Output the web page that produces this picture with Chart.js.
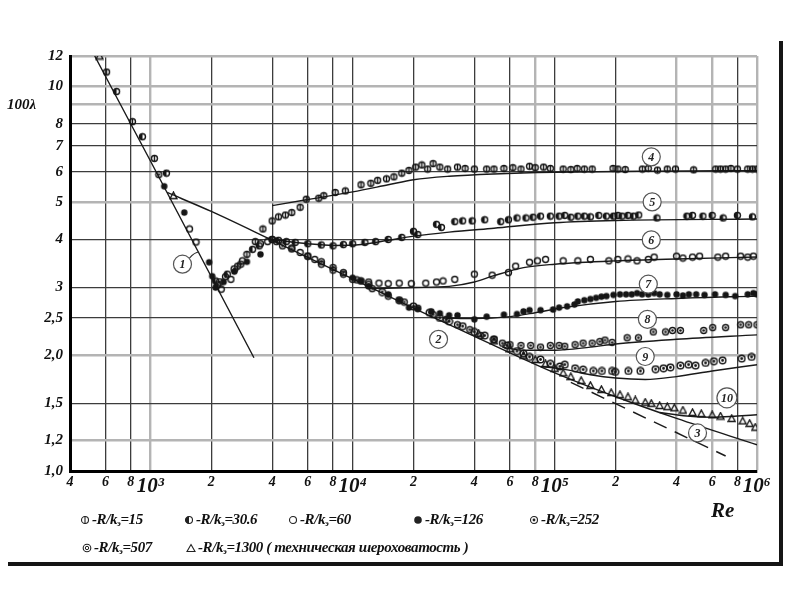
<!DOCTYPE html>
<html><head><meta charset="utf-8">
<script src="https://cdn.jsdelivr.net/npm/chart.js@4/dist/chart.umd.min.js"></script>
<style>
body{margin:0;background:#fff;width:800px;height:600px;overflow:hidden;position:relative;font-family:'Liberation Serif','DejaVu Serif',serif;}
#c{position:absolute;left:0;top:0;}
.frameR{position:absolute;left:779px;top:41px;width:4px;height:525px;background:#151515;}
.frameB{position:absolute;left:8px;top:562px;width:775px;height:4px;background:#151515;}
.t{position:absolute;font-style:italic;font-weight:bold;color:#111;white-space:nowrap;line-height:1;}
.leg{position:absolute;font-style:italic;font-weight:bold;font-size:15px;color:#111;white-space:nowrap;line-height:1;display:flex;align-items:center;letter-spacing:-0.4px;}
.leg svg{margin-right:2px;}
.leg sub{font-size:9px;vertical-align:-2px;}
</style></head>
<body>
<canvas id="c" width="800" height="600"></canvas>
<div class="frameR"></div><div class="frameB"></div>
<div class="t" style="left:7px;top:97px;font-size:15px;">100λ</div>
<div class="t" style="left:711px;top:500px;font-size:21px;">Re</div>
<div id="legend"></div>
<script>
// ---- axes ----
const xTickValues = [400,600,800,1e3,2e3,4e3,6e3,8e3,1e4,2e4,4e4,6e4,8e4,1e5,2e5,4e5,6e5,8e5,1e6];
const xTickLabels = ['4','6','8','10³','2','4','6','8','10⁴','2','4','6','8','10⁵','2','4','6','8','10⁶'];
const yTickValues = [1,1.2,1.5,2,2.5,3,4,5,6,7,8,9,10,12];
const yTickLabels = ['1,0','1,2','1,5','2,0','2,5','3','4','5','6','7','8','','10','12'];
const xLightGrid = [1e3,8e4,4e5,6e5,1e6];
const yLightGrid = [12,10,9,5,2,1.2];

// ---- theoretical curves [Re, 100λ] ----
const laminar1 = [[530,12.0],[1000,6.4],[2000,3.2],[3250,1.97]];
const smooth2 = [[1210,5.3],[2000,4.73],[4000,3.98],[1e4,3.16],[2e4,2.65],[4e4,2.24],[1e5,1.80],[2e5,1.56],[4e5,1.37],[1e6,1.17]];
const blasius3 = [[1.2e5,1.7],[7e5,1.094]];
const curve4 = [[4000,4.9],[6000,5.08],[1e4,5.32],[1.5e4,5.55],[2e4,5.72],[3e4,5.84],[5e4,5.92],[1e5,5.98],[3e5,6.02],[1e6,6.04]];
const curve5 = [[4000,4.0],[6000,3.9],[8000,3.86],[1.1e4,3.88],[1.5e4,3.98],[2e4,4.08],[3e4,4.18],[5e4,4.28],[1e5,4.42],[2e5,4.48],[1e6,4.52]];
const curve6 = [[1.25e4,2.98],[2e4,3.0],[3e4,3.02],[4e4,3.1],[5e4,3.22],[7e4,3.38],[1e5,3.45],[2e5,3.52],[4e5,3.56],[1e6,3.6]];
const curve7 = [[2.8e4,2.5],[4e4,2.49],[6e4,2.52],[8e4,2.58],[1.1e5,2.66],[2e5,2.76],[4e5,2.81],[1e6,2.85]];
const curve8 = [[5.5e4,2.1],[7e4,2.06],[1e5,2.06],[1.5e5,2.1],[2e5,2.14],[4e5,2.2],[1e6,2.26]];
const curve9 = [[8.5e4,1.87],[1.1e5,1.84],[1.5e5,1.78],[2e5,1.745],[2.8e5,1.73],[4e5,1.76],[6e5,1.82],[1e6,1.89]];
const curve10 = [[3.3e5,1.42],[4.5e5,1.39],[6e5,1.38],[8e5,1.39],[1e6,1.40]];

// ---- experimental points [Re, 100λ] ----
const pts15 = [[607,10.9],[815,8.1],[1046,6.5],[2700,3.41],[3000,3.66],[3300,3.95],[3600,4.26],[4000,4.47],[4300,4.58],[4650,4.63],[5000,4.7],[5500,4.85],[5900,5.09],[6800,5.12],[7200,5.2],[8200,5.3],[9200,5.35],[1.1e4,5.55],[1.23e4,5.6],[1.33e4,5.7],[1.47e4,5.75],[1.6e4,5.82],[1.75e4,5.95],[1.9e4,6.05],[2.05e4,6.17],[2.2e4,6.25],[2.35e4,6.1],[2.5e4,6.3],[2.7e4,6.17],[2.95e4,6.1],[3.3e4,6.17],[3.6e4,6.12],[4e4,6.1],[4.6e4,6.1],[5e4,6.1],[5.6e4,6.12],[6.2e4,6.15],[6.8e4,6.1],[7.5e4,6.2],[8e4,6.15],[8.8e4,6.17],[9.5e4,6.12],[1.1e5,6.1],[1.2e5,6.08],[1.29e5,6.12],[1.4e5,6.1],[1.53e5,6.1],[1.94e5,6.12],[2.05e5,6.1],[2.23e5,6.08],[2.71e5,6.1],[2.9e5,6.12],[3.22e5,6.06],[3.6e5,6.1],[3.95e5,6.1],[4.86e5,6.07],[6.25e5,6.1],[6.6e5,6.1],[7e5,6.1],[7.43e5,6.12],[8e5,6.1],[9e5,6.1],[9.5e5,6.1],[1e6,6.1]];
const pts30 = [[680,9.7],[913,7.4],[1200,5.95],[2100,3.12],[2400,3.25],[3200,3.77],[3450,3.85],[4000,4.0],[4300,3.98],[4700,3.95],[5200,3.93],[6000,3.9],[7000,3.87],[8000,3.85],[9000,3.88],[1e4,3.9],[1.15e4,3.93],[1.3e4,3.95],[1.5e4,4.0],[1.75e4,4.05],[2e4,4.2],[2.1e4,4.12],[2.6e4,4.38],[2.75e4,4.3],[3.2e4,4.45],[3.5e4,4.47],[3.9e4,4.47],[4.5e4,4.5],[5.4e4,4.45],[5.9e4,4.5],[6.5e4,4.55],[7.2e4,4.55],[7.8e4,4.57],[8.5e4,4.6],[9.5e4,4.6],[1.05e5,4.6],[1.12e5,4.62],[1.2e5,4.57],[1.3e5,4.6],[1.4e5,4.6],[1.5e5,4.58],[1.65e5,4.62],[1.8e5,4.6],[1.95e5,4.6],[2.05e5,4.62],[2.15e5,4.6],[2.3e5,4.62],[2.45e5,4.6],[2.6e5,4.63],[3.2e5,4.55],[4.5e5,4.6],[4.8e5,4.62],[5.4e5,4.6],[6e5,4.62],[6.8e5,4.55],[8e5,4.62],[9.5e5,4.58]];
const pts60 = [[1560,4.26],[1680,3.94],[2240,2.97],[2500,3.15],[2850,3.52],[3500,3.9],[3800,3.95],[4200,3.95],[5000,3.8],[5500,3.7],[6000,3.62],[6500,3.55],[7000,3.45],[8000,3.33],[9000,3.25],[1e4,3.15],[1.1e4,3.12],[1.2e4,3.1],[1.35e4,3.08],[1.5e4,3.07],[1.7e4,3.08],[1.95e4,3.07],[2.3e4,3.08],[2.6e4,3.1],[2.8e4,3.12],[3.2e4,3.15],[4e4,3.25],[4.9e4,3.23],[5.9e4,3.28],[6.4e4,3.41],[7.5e4,3.49],[8.2e4,3.52],[9e4,3.55],[1.1e5,3.52],[1.3e5,3.52],[1.5e5,3.55],[1.85e5,3.52],[2.05e5,3.55],[2.3e5,3.56],[2.55e5,3.52],[2.9e5,3.55],[3.1e5,3.6],[4e5,3.62],[4.3e5,3.58],[4.8e5,3.6],[5.2e5,3.62],[6.4e5,3.6],[7e5,3.62],[8.3e5,3.62],[9e5,3.6],[9.6e5,3.62]];
const pts126 = [[1170,5.5],[1470,4.7],[1950,3.49],[2020,3.21],[2100,3.0],[2300,3.1],[2600,3.3],[3000,3.5],[3500,3.66],[1e4,3.18],[1.1e4,3.12],[1.2e4,3.02],[1.5e4,2.88],[1.7e4,2.78],[1.9e4,2.66],[2.1e4,2.64],[2.45e4,2.6],[2.7e4,2.57],[3e4,2.54],[3.3e4,2.54],[4e4,2.48],[4.6e4,2.52],[5.6e4,2.55],[6.5e4,2.56],[7e4,2.6],[7.5e4,2.62],[8.5e4,2.62],[9.8e4,2.63],[1.05e5,2.66],[1.15e5,2.68],[1.25e5,2.71],[1.3e5,2.76],[1.4e5,2.78],[1.5e5,2.8],[1.6e5,2.82],[1.7e5,2.84],[1.8e5,2.85],[1.95e5,2.87],[2.1e5,2.88],[2.25e5,2.88],[2.4e5,2.88],[2.55e5,2.9],[2.7e5,2.88],[2.9e5,2.88],[3.1e5,2.9],[3.3e5,2.88],[3.6e5,2.87],[4e5,2.88],[4.3e5,2.86],[4.6e5,2.88],[5e5,2.88],[5.5e5,2.87],[6.2e5,2.88],[7e5,2.87],[7.8e5,2.85],[9e5,2.88],[9.6e5,2.9],[1e6,2.88]];
const pts252 = [[1100,5.9],[2150,3.05],[2350,3.2],[2800,3.45],[4e3,4.0],[4.5e3,3.85],[5e3,3.78],[6e3,3.62],[7e3,3.5],[8e3,3.38],[9e3,3.28],[1.05e4,3.14],[1.25e4,2.98],[1.5e4,2.85],[1.8e4,2.75],[2.1e4,2.65],[2.5e4,2.55],[2.9e4,2.48],[3.3e4,2.4],[3.8e4,2.33],[4.3e4,2.25],[5e4,2.2],[5.5e4,2.15],[6e4,2.13],[6.8e4,2.12],[7.6e4,2.12],[8.5e4,2.1],[9.5e4,2.12],[1.05e5,2.12],[1.12e5,2.11],[1.26e5,2.13],[1.38e5,2.15],[1.53e5,2.15],[1.67e5,2.17],[1.77e5,2.19],[1.92e5,2.16],[2.28e5,2.22],[2.59e5,2.22],[3.07e5,2.3],[3.53e5,2.3],[3.82e5,2.32],[4.18e5,2.32],[5.45e5,2.32],[6.04e5,2.36],[7.0e5,2.36],[8.3e5,2.4],[9.1e5,2.4],[1e6,2.4]];
const pts507 = [[2200,3.1],[2600,3.35],[1.2e4,3.05],[1.4e4,2.92],[1.7e4,2.78],[2e4,2.68],[2.4e4,2.58],[2.7e4,2.5],[3e4,2.45],[3.5e4,2.38],[4e4,2.3],[4.5e4,2.25],[5e4,2.2],[5.8e4,2.12],[6.5e4,2.05],[7e4,2.02],[7.5e4,1.98],[8.5e4,1.95],[9.5e4,1.9],[1.06e5,1.87],[1.12e5,1.89],[1.26e5,1.85],[1.38e5,1.835],[1.55e5,1.82],[1.71e5,1.82],[1.92e5,1.82],[1.99e5,1.81],[2.31e5,1.82],[2.65e5,1.82],[3.15e5,1.84],[3.45e5,1.85],[3.73e5,1.86],[4.18e5,1.88],[4.59e5,1.89],[4.97e5,1.88],[5.57e5,1.91],[6.12e5,1.93],[6.76e5,1.94],[8.4e5,1.96],[9.4e5,1.98]];
const pts1300 = [[560,12],[1300,5.2],[4.2e4,2.28],[5e4,2.18],[6e4,2.08],[7e4,2.0],[8e4,1.95],[9e4,1.9],[1e5,1.85],[1.1e5,1.8],[1.2e5,1.76],[1.35e5,1.72],[1.5e5,1.67],[1.7e5,1.63],[1.9e5,1.6],[2.1e5,1.58],[2.3e5,1.56],[2.5e5,1.53],[2.8e5,1.51],[3e5,1.5],[3.3e5,1.48],[3.6e5,1.47],[3.9e5,1.46],[4.3e5,1.44],[4.8e5,1.42],[5.3e5,1.41],[6e5,1.4],[6.6e5,1.39],[7.5e5,1.37],[8.5e5,1.35],[9.2e5,1.33],[9.8e5,1.3]];

// ---- curve number labels [text, Re, 100λ] ----
const curveLabels = [['1',1440,3.45],['2',2.66e4,2.2],['3',5.08e5,1.256],['4',3.0e5,6.56],['5',3.03e5,5.01],['6',3.0e5,3.99],['7',2.9e5,3.06],['8',2.87e5,2.48],['9',2.8e5,1.985],['10',7.1e5,1.55]];
const leader1 = [1740,3.71];

// ---- legend ----
const legendRows = [
  [['s15','-R/k','=15',80],['s30','-R/k','=30.6',184],['s60','-R/k','=60',288],['s126','-R/k','=126',413],['s252','-R/k','=252',529]],
  [['s507','-R/k','=507',82],['s1300','-R/k','=1300 ( техническая шероховатость )',186]]
];

const INK = '#151515';
function mk(fn){const c=document.createElement('canvas');c.width=9;c.height=9;const g=c.getContext('2d');g.strokeStyle=INK;g.fillStyle=INK;g.lineWidth=1.4;fn(g);return c;}
function circ(g,r){g.beginPath();g.arc(4.5,4.5,r,0,Math.PI*2);}
const symbols = {
  s15: mk(g=>{circ(g,3);g.stroke();g.beginPath();g.moveTo(4.5,1);g.lineTo(4.5,8);g.stroke();}),
  s30: mk(g=>{circ(g,3);g.stroke();g.beginPath();g.moveTo(4.5,4.5);g.arc(4.5,4.5,3,Math.PI/2,Math.PI*1.5);g.closePath();g.fill();}),
  s60: mk(g=>{circ(g,3);g.stroke();}),
  s126: mk(g=>{circ(g,3.2);g.fill();}),
  s252: mk(g=>{circ(g,3);g.stroke();circ(g,1.3);g.fill();}),
  s507: mk(g=>{circ(g,3.3);g.stroke();circ(g,1.4);g.fill();}),
  s1300: mk(g=>{g.beginPath();g.moveTo(4.5,1);g.lineTo(8,7.5);g.lineTo(1,7.5);g.closePath();g.stroke();})
};
const svgSym = {
  s15:'<circle cx="5" cy="5" r="3.5" fill="none" stroke="#222" stroke-width="1.1"/><line x1="5" y1="1" x2="5" y2="9" stroke="#222" stroke-width="1.1"/>',
  s30:'<circle cx="5" cy="5" r="3.5" fill="none" stroke="#222" stroke-width="1.1"/><path d="M5 1.5 A3.5 3.5 0 0 0 5 8.5 Z" fill="#222"/>',
  s60:'<circle cx="5" cy="5" r="3.5" fill="none" stroke="#222" stroke-width="1.1"/>',
  s126:'<circle cx="5" cy="5" r="3.8" fill="#222"/>',
  s252:'<circle cx="5" cy="5" r="3.5" fill="none" stroke="#222" stroke-width="1.1"/><circle cx="5" cy="5" r="1.4" fill="#222"/>',
  s507:'<circle cx="5" cy="5" r="3.8" fill="none" stroke="#222" stroke-width="1.1"/><circle cx="5" cy="5" r="1.7" fill="none" stroke="#222" stroke-width="1"/>',
  s1300:'<path d="M5 1.5 L9 8.5 L1 8.5 Z" fill="none" stroke="#222" stroke-width="1.1"/>'
};
let html='';
legendRows.forEach((row,ri)=>{
  const top = ri===0 ? 512 : 540;
  row.forEach(it=>{
    html += `<div class="leg" style="left:${it[3]}px;top:${top}px;"><svg width="10" height="10">${svgSym[it[0]]}</svg><span>${it[1]}<sub>э</sub>${it[2]}</span></div>`;
  });
});
document.getElementById('legend').innerHTML = html;

const toXY = a => a.map(p=>({x:p[0],y:p[1]}));
function lineDS(arr,dash){return {type:'line',data:toXY(arr),borderColor:'#1a1a1a',borderWidth:1.4,pointRadius:0,fill:false,cubicInterpolationMode:'monotone',borderDash:dash||[],order:2};}
function ptDS(arr,key){return {type:'scatter',data:toXY(arr),pointStyle:symbols[key],pointRadius:4,order:1};}

const labelPlugin = {
  id:'curveLabels',
  afterDatasetsDraw(chart){
    const g=chart.ctx, xs=chart.scales.x, ys=chart.scales.y;
    g.save();
    const l1 = curveLabels[0];
    const cx1=xs.getPixelForValue(l1[1]), cy1=ys.getPixelForValue(l1[2]);
    const ex=xs.getPixelForValue(leader1[0]), ey=ys.getPixelForValue(leader1[1]);
    curveLabels.forEach(l=>{
      const px=xs.getPixelForValue(l[1]), py=ys.getPixelForValue(l[2]);
      const r = l[0].length>1 ? 10 : 9;
      g.beginPath(); g.arc(px,py,r,0,Math.PI*2);
      g.fillStyle='#fff'; g.fill();
      g.strokeStyle='#555'; g.lineWidth=1.2; g.stroke();
      g.fillStyle='#222'; g.font='italic bold 12px "Liberation Serif", serif';
      g.textAlign='center'; g.textBaseline='middle';
      g.fillText(l[0],px,py+1);
    });
    g.strokeStyle='#333'; g.lineWidth=1.1;
    g.beginPath(); g.moveTo(cx1+7,cy1-6); g.quadraticCurveTo(cx1+12,cy1-12,ex,ey); g.stroke();
    g.restore();
  }
};

const tickFont = {family:'"Liberation Serif", serif', style:'italic', weight:'bold'};
new Chart(document.getElementById('c'), {
  data:{datasets:[
    ptDS(pts15,'s15'),ptDS(pts30,'s30'),ptDS(pts60,'s60'),ptDS(pts126,'s126'),ptDS(pts252,'s252'),ptDS(pts507,'s507'),ptDS(pts1300,'s1300'),
    lineDS(laminar1),lineDS(smooth2),lineDS(blasius3,[14,9]),lineDS(curve4),lineDS(curve5),lineDS(curve6),lineDS(curve7),lineDS(curve8),lineDS(curve9),lineDS(curve10)
  ]},
  options:{
    responsive:false, animation:false,
    layout:{padding:{left:0,top:56,right:43,bottom:89}},
    plugins:{legend:{display:false},tooltip:{enabled:false}},
    scales:{
      x:{type:'logarithmic',min:400,max:1e6,
        afterBuildTicks:s=>{s.ticks=xTickValues.map(v=>({value:v}));},
        afterFit:s=>{s.height=40;},
        ticks:{autoSkip:false,maxRotation:0,color:'#111',padding:3,
          callback:(v,i)=>xTickLabels[i],
          font:c=>{const lab=xTickLabels[c.index]||'';return Object.assign({},tickFont,{size: lab.startsWith('10')?21:14});}},
        grid:{drawTicks:false,
          color:c=>xLightGrid.includes(c.tick&&c.tick.value)?'#b4b4b4':'#3c3c3c',
          lineWidth:c=>xLightGrid.includes(c.tick&&c.tick.value)?2.4:1.3},
        border:{color:'#000',width:3}},
      y:{type:'logarithmic',min:1,max:12,
        afterBuildTicks:s=>{s.ticks=yTickValues.map(v=>({value:v}));},
        afterFit:s=>{s.width=70;},
        ticks:{autoSkip:false,color:'#111',padding:7,
          callback:(v,i)=>yTickLabels[i],
          font:Object.assign({},tickFont,{size:15})},
        grid:{drawTicks:false,
          color:c=>yLightGrid.includes(c.tick&&c.tick.value)?'#b4b4b4':'#3c3c3c',
          lineWidth:c=>yLightGrid.includes(c.tick&&c.tick.value)?2.4:1.3},
        border:{color:'#000',width:3}}
    }
  },
  plugins:[labelPlugin]
});
</script>
</body></html>
